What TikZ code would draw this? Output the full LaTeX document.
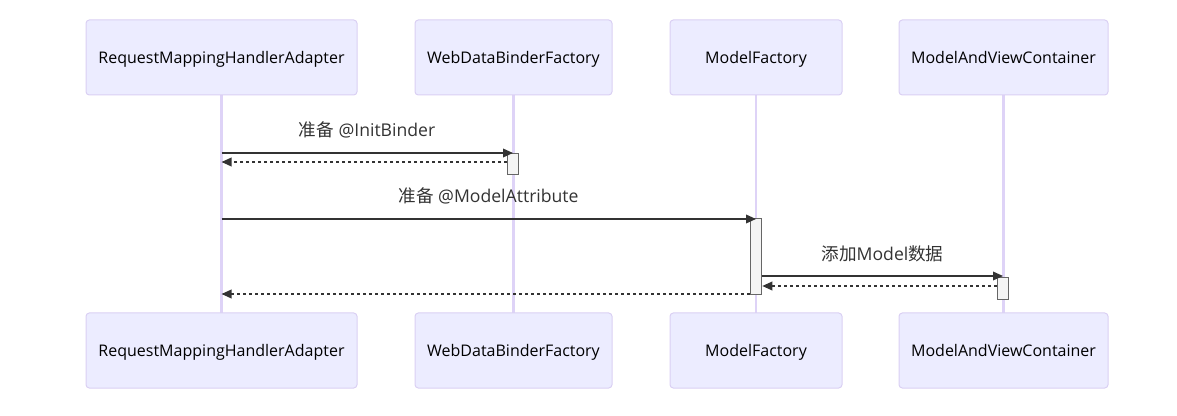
\documentclass[tikz,border=0pt]{standalone}
\usepackage{fontspec}
\setmainfont{Open Sans}
\newfontfamily\cjk{Noto Sans CJK SC}
\usetikzlibrary{arrows.meta}
\definecolor{actfill}{HTML}{ECECFF}
\definecolor{actborder}{HTML}{DAD0F3}
\definecolor{lifeline}{HTML}{DED3F7}
\definecolor{msgcol}{HTML}{333333}
\definecolor{actvfill}{HTML}{F4F4F4}
\definecolor{actvdraw}{HTML}{666666}
\tikzset{
  actor/.style={draw=actborder, fill=actfill, line width=0.75pt, rounded corners=2.5pt,
    minimum height=56.25pt, inner sep=0pt, text height=11.6pt, text depth=2.6pt,
    font=\fontsize{12}{14}\selectfont, text=black},
  life/.style={draw=lifeline, line width=1.9pt},
  actv/.style={draw=actvdraw, fill=actvfill, line width=0.75pt, inner sep=0pt},
  msg/.style={draw=msgcol, line width=1.1pt, -{Triangle[length=7.5pt,width=6.5pt]}},
  ret/.style={msg, dash pattern=on 2.25pt off 2.25pt},
  lbl/.style={font=\fontsize{13.2}{15}\selectfont, text=msgcol, inner sep=0pt}
}
\begin{document}
\begin{tikzpicture}[x=0.75pt,y=-0.75pt]
\useasboundingbox (0,0) rectangle (1177,416);
% lifeline coordinates
\coordinate (t1) at (221.5,95);  \coordinate (u1) at (221.5,313);
\coordinate (t2) at (513.5,95);  \coordinate (u2) at (513.5,313);
\coordinate (t3) at (756,95);    \coordinate (u3) at (756,313);
\coordinate (t4) at (1003.5,95); \coordinate (u4) at (1003.5,313);
% lifelines
\draw[life] (t1) -- (u1);
\draw[life] (t2) -- (u2);
\draw[life] (t3) -- (u3);
\draw[life] (t4) -- (u4);
% actor boxes (top)
\node[actor, minimum width=203.25pt] (a1) at (221.5,57.5) {RequestMappingHandlerAdapter};
\node[actor, minimum width=147.75pt] (a2) at (513.5,57.5) {WebDataBinderFactory};
\node[actor, minimum width=129pt] (a3) at (756,57.5) {ModelFactory};
\node[actor, minimum width=156.75pt] (a4) at (1003.5,57.5) {ModelAndViewContainer};
% actor boxes (bottom)
\node[actor, minimum width=203.25pt] (b1) at (221.5,350.5) {RequestMappingHandlerAdapter};
\node[actor, minimum width=147.75pt] (b2) at (513.5,350.5) {WebDataBinderFactory};
\node[actor, minimum width=129pt] (b3) at (756,350.5) {ModelFactory};
\node[actor, minimum width=156.75pt] (b4) at (1003.5,350.5) {ModelAndViewContainer};
% activation boxes
\node[actv, minimum width=8.25pt, minimum height=15.75pt] (v2) at (513,164.5) {};
\node[actv, minimum width=8.7pt, minimum height=57pt] (v3) at (756,256.5) {};
\node[actv, minimum width=8.7pt, minimum height=16.2pt] (v4) at (1003,288.5) {};
% message end points
\coordinate (p1) at (a1.south |- 0,153);
\coordinate (p1e) at (513,153);
\coordinate (p2) at (v2.west |- 0,162);
\coordinate (p2e) at (a1.south |- 0,162);
\coordinate (p3) at (a1.south |- 0,219);
\coordinate (p3e) at (756,219);
\coordinate (p4) at (v3.east |- 0,276);
\coordinate (p4e) at (1003,276);
\coordinate (p5) at (v4.west |- 0,286);
\coordinate (p5e) at (v3.east |- 0,286);
\coordinate (p6) at (v3.west |- 0,294);
\coordinate (p6e) at (a1.south |- 0,294);
% messages
\draw[msg] (p1) -- (p1e);
\draw[ret] (p2) -- (p2e);
\draw[msg] (p3) -- (p3e);
\draw[msg] (p4) -- (p4e);
\draw[ret] (p5) -- (p5e);
\draw[ret] (p6) -- (p6e);
% labels
\node[lbl] (l1) at (367,130) {{\cjk 准备} @InitBinder};
\node[lbl] (l2) at (488.5,196) {{\cjk 准备} @ModelAttribute};
\node[lbl] (l3) at (882.5,254) {{\cjk 添加}Model{\cjk 数据}};
\end{tikzpicture}
\end{document}
